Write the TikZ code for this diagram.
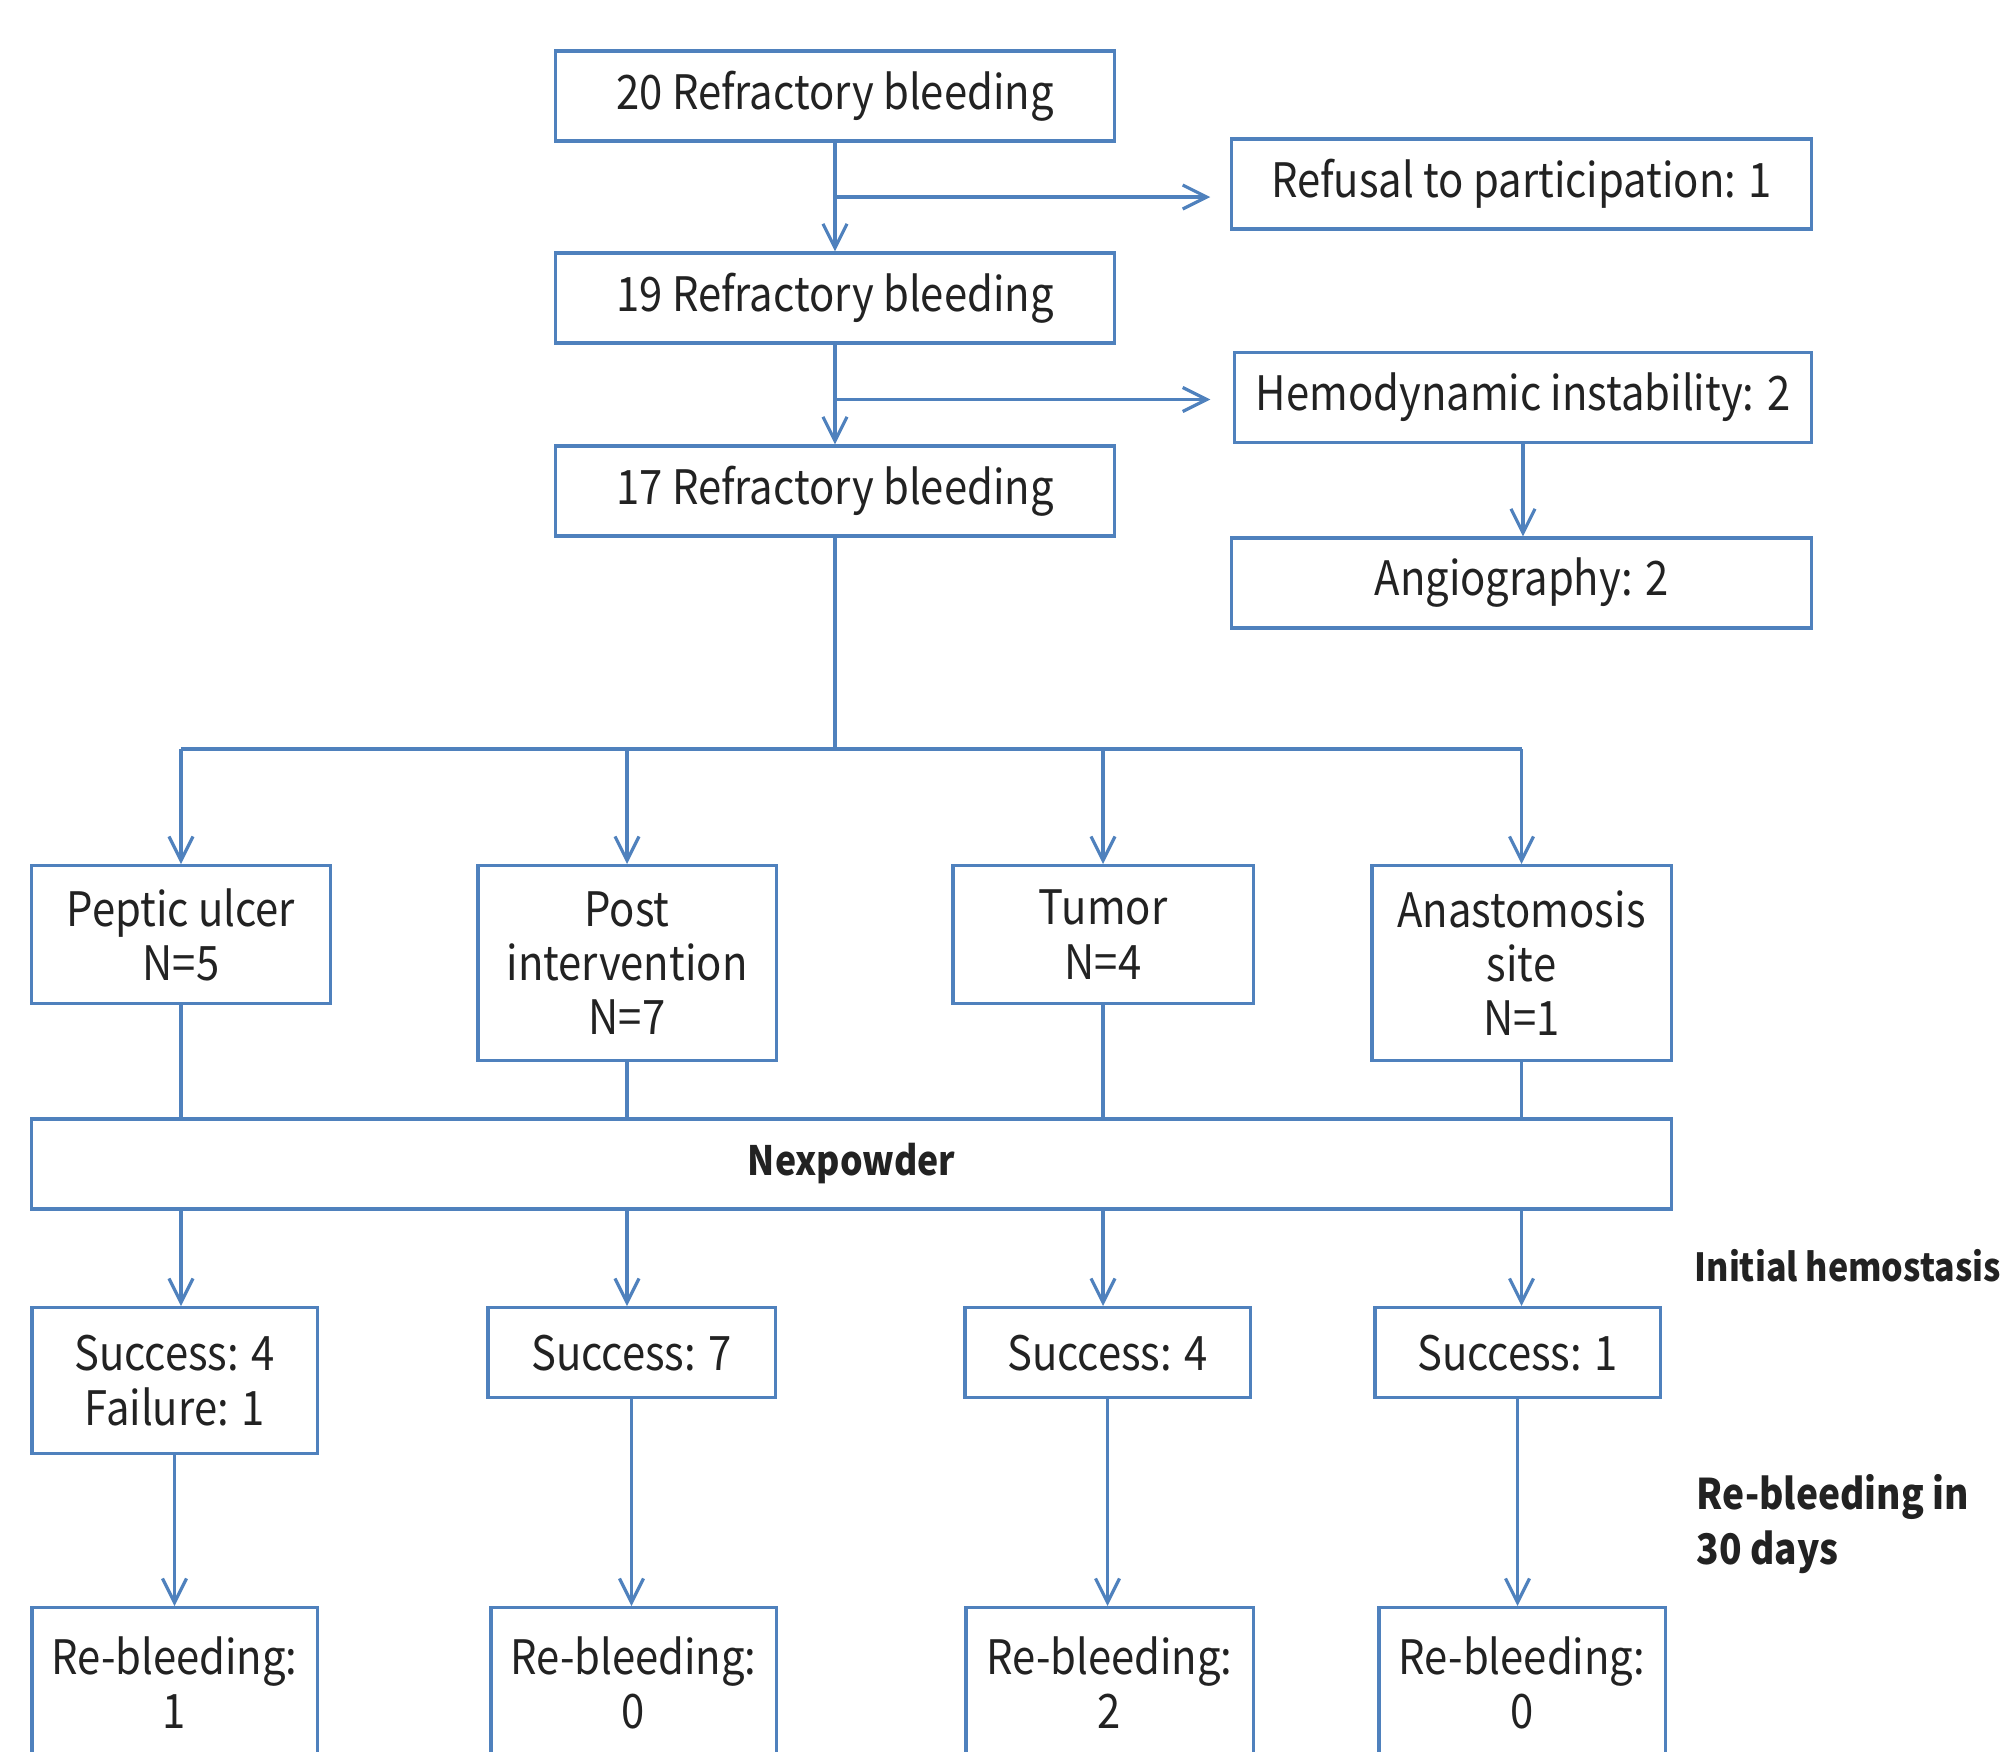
\documentclass[tikz,border=0pt]{standalone}
\usepackage{fontspec}
\setmainfont[FakeStretch=0.88]{Noto Sans CJK KR}
\usepackage{xcolor}
\usepackage{tikz}
\usetikzlibrary{arrows.meta,positioning,calc}
\definecolor{flowblue}{RGB}{79,129,189}
\definecolor{inkgray}{RGB}{34,34,34}

\begin{document}
\begin{tikzpicture}[x=0.01cm, y=-0.01cm,
    every node/.style={font=\fontsize{13.5}{15.4}\selectfont, text=inkgray},
    heading/.style={font=\fontsize{12}{15.4}\selectfont\bfseries},
    box/.style={draw=flowblue, line width=0.9pt, fill=white, inner sep=0pt, align=center},
    link/.style={draw=flowblue, line width=0.9pt},
    arr/.style={link, -{Straight Barb[length=2.4mm, width=2.4mm]}}]
  \useasboundingbox (0,0) rectangle (2015,1751);
  \node[box, minimum width=5.58cm, minimum height=0.9cm] (top20) at (835,96) {20 Refractory bleeding};
  \node[box, minimum width=5.58cm, minimum height=0.9cm] (top19) at (835,298) {19 Refractory bleeding};
  \node[box, minimum width=5.58cm, minimum height=0.9cm] (top17) at (835,491) {17 Refractory bleeding};
  \node[box, minimum width=5.79cm, minimum height=0.9cm] (refusal) at (1521.5,184) {Refusal to participation: 1};
  \node[box, minimum width=5.76cm, minimum height=0.9cm] (hemo) at (1523,397.5) {Hemodynamic instability: 2};
  \node[box, minimum width=5.79cm, minimum height=0.9cm] (angio) at (1521.5,583) {Angiography: 2};
  \foreach \i/\x/\w/\h/\lab in {1/181/2.98/1.38/{Peptic ulcer\\N=5}, 2/627/2.98/1.95/{Post\\intervention\\N=7},
      3/1103/3.00/1.38/{Tumor\\N=4}, 4/1521.5/2.99/1.95/{Anastomosis\\site\\N=1}}
    \node[box, anchor=north, minimum width=\w cm, minimum height=\h cm] (cause\i) at (\x,864) {\lab};
  \node[box, heading, font=\fontsize{11.5}{14}\selectfont\bfseries, minimum width=16.39cm, minimum height=0.9cm] (nexp) at (851.5,1164) {Nexpowder};
  \foreach \i/\x/\w/\h/\lab in {1/174.5/2.85/1.46/{Success: 4\\Failure: 1}, 2/631.5/2.87/0.9/{Success: 7},
      3/1107.5/2.85/0.9/{Success: 4}, 4/1517.5/2.85/0.9/{Success: 1}}
    \node[box, anchor=north, minimum width=\w cm, minimum height=\h cm] (init\i) at (\x,1306) {\lab};
  \foreach \i/\x/\w/\n in {1/174.5/2.85/1, 2/633.5/2.85/0, 3/1109.5/2.87/2, 4/1522/2.86/0}
    \node[box, anchor=north, minimum width=\w cm, minimum height=1.5cm] (rebleed\i) at (\x,1606) {Re-bleeding:\\\n};
  \node[heading, font=\fontsize{11}{15.4}\selectfont\bfseries, anchor=west, inner sep=0pt] (hemlabel) at (1694,1266) {Initial hemostasis};
  \node[heading, anchor=west, align=left, inner sep=0pt] (rblabel) at (1696,1524) {Re-bleeding in\\30 days};

  \coordinate (split1) at ($(top20.south)!0.5!(top19.north)$);
  \coordinate (split2) at ($(top19.south)!0.55!(top17.north)$);
  \coordinate (fork) at (835,749);
  \draw[arr] (top20) -- (top19);
  \draw[arr, shorten >=0.2cm] (split1) -- (split1 -| refusal.west);
  \draw[arr] (top19) -- (top17);
  \draw[arr, shorten >=0.23cm] (split2) -- (split2 -| hemo.west);
  \draw[arr] (hemo.south) -- (hemo.south |- angio.north);
  \draw[link] (top17) -- (fork);
  \draw[link] (cause1 |- fork) -- (cause4 |- fork);
  \foreach \i in {1,...,4}{
    \draw[arr] (cause\i |- fork) -- (cause\i.north);
    \draw[link] (cause\i) -- (cause\i |- nexp.north);
    \draw[arr] (cause\i |- nexp.south) -- (cause\i |- init\i.north);
    \draw[arr] (init\i) -- (init\i |- rebleed\i.north);}
\end{tikzpicture}
\end{document}
